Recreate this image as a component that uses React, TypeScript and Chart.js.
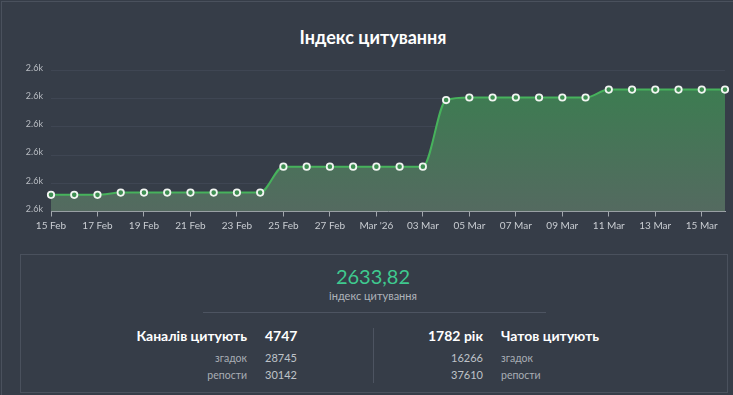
import React, { useEffect, useRef } from "react";
import { Chart, registerables } from "chart.js";

Chart.register(...registerables);

const categories = [
  "15 Feb", "16 Feb", "17 Feb", "18 Feb", "19 Feb", "20 Feb", "21 Feb", "22 Feb",
  "23 Feb", "24 Feb", "25 Feb", "26 Feb", "27 Feb", "28 Feb", "Mar '26", "02 Mar",
  "03 Mar", "04 Mar", "05 Mar", "06 Mar", "07 Mar", "08 Mar", "09 Mar", "10 Mar",
  "11 Mar", "12 Mar", "13 Mar", "14 Mar", "15 Mar", "16 Mar",
];

const citationIndex = [
  2630.09, 2630.09, 2630.09,
  2630.17, 2630.17, 2630.17, 2630.17, 2630.17, 2630.17, 2630.17,
  2631.09, 2631.09, 2631.09, 2631.09, 2631.09, 2631.09, 2631.09,
  2633.45,
  2633.54, 2633.54, 2633.54, 2633.54, 2633.54, 2633.54,
  2633.82, 2633.82, 2633.82, 2633.82, 2633.82, 2633.82,
];

const yTickValues = [2629.5, 2630.5, 2631.5, 2632.5, 2633.5, 2634.5];
const yTickLabels = ["2.6k", "2.6k", "2.6k", "2.6k", "2.6k", "2.6k"];

const BG = "#363d48";
const FONT = "Lato, 'Noto Sans', sans-serif";

export default function App() {
  const canvasRef = useRef<HTMLCanvasElement | null>(null);

  useEffect(() => {
    const canvas = canvasRef.current;
    if (!canvas) return;
    const chart = new Chart(canvas, {
      type: "line",
      data: {
        labels: categories,
        datasets: [
          {
            data: citationIndex,
            borderColor: "#47b25c",
            borderWidth: 2,
            cubicInterpolationMode: "monotone",
            fill: "start",
            backgroundColor: (ctx: any) => {
              const a = ctx.chart.chartArea;
              if (!a) return "rgba(60,128,82,0.8)";
              const g = ctx.chart.ctx.createLinearGradient(0, a.top, 0, a.bottom);
              g.addColorStop(0, "#397f4f");
              g.addColorStop(1, "#546a60");
              return g;
            },
            pointRadius: 3.2,
            pointBorderWidth: 1.8,
            pointBorderColor: "#f2f5f2",
            pointBackgroundColor: "#3e8e52",
            pointHoverRadius: 3.2,
          },
        ],
      },
      options: {
        animation: false,
        responsive: false,
        maintainAspectRatio: false,
        layout: { padding: { top: 8, right: 8, left: 0, bottom: 0 } },
        plugins: { legend: { display: false }, tooltip: { enabled: false } },
        scales: {
          x: {
            type: "category",
            offset: false,
            grid: {
              display: true,
              drawOnChartArea: false,
              drawTicks: true,
              tickLength: 5,
              color: "#a3a8ae",
            },
            border: { display: true, color: "#a3a8ae", width: 1 },
            ticks: {
              autoSkip: false,
              maxRotation: 0,
              padding: 3,
              color: "#c9cdd2",
              font: { family: FONT, size: 10 },
            },
            afterBuildTicks: (axis: any) => {
              axis.ticks = axis.ticks.filter((t: any) => t.value % 2 === 0);
            },
            afterFit: (scale: any) => {
              scale.height = 28.5;
            },
          },
          y: {
            min: yTickValues[0],
            max: yTickValues[yTickValues.length - 1],
            grid: { color: "#3f4653", drawTicks: false },
            border: { display: false },
            ticks: {
              padding: 8,
              labelOffset: -2.5,
              color: "#b9bdc3",
              font: { family: FONT, size: 9 },
              callback: (_v: any, i: number) => yTickLabels[i],
            },
            afterBuildTicks: (axis: any) => {
              axis.ticks = yTickValues.map((v) => ({ value: v }));
            },
            afterFit: (scale: any) => {
              scale.width = 51;
            },
          },
        },
      },
    });
    return () => chart.destroy();
  }, []);

  const abs = (s: React.CSSProperties): React.CSSProperties => ({ position: "absolute", ...s });

  return (
    <div
      style={{
        position: "fixed",
        left: 0,
        top: 0,
        width: 733,
        height: 395,
        background: BG,
        overflow: "hidden",
        fontFamily: FONT,
      }}
    >
      <div style={abs({ left: 1, top: 1, width: 760, height: 420, borderLeft: "1px solid #4a515d", borderTop: "1px solid #4a515d" })} />
      <div
        style={abs({
          left: 0,
          width: 746,
          top: 25,
          textAlign: "center",
          color: "#ffffff",
          fontWeight: 700,
          fontSize: 18,
          lineHeight: "24px",
        })}
      >
        Індекс цитування
      </div>
      <canvas ref={canvasRef} width={733} height={183} style={abs({ left: 0, top: 57, width: 733, height: 183 })} />

      <div
        style={abs({
          left: 20,
          top: 254,
          width: 708,
          height: 139,
          border: "1px solid #4a515d",
          boxSizing: "border-box",
        })}
      />
      <div
        style={abs({
          left: 273,
          width: 200,
          top: 263,
          textAlign: "center",
          color: "#3fc98f",
          fontSize: 20,
          lineHeight: "26px",
        })}
      >
        2633,82
      </div>
      <div
        style={abs({
          left: 273,
          width: 200,
          top: 289,
          textAlign: "center",
          color: "#aeb3ba",
          fontSize: 11,
          lineHeight: "14px",
        })}
      >
        індекс цитування
      </div>
      <div style={abs({ left: 203, top: 312, width: 343, height: 1, background: "#4d5461" })} />
      <div style={abs({ left: 373, top: 328, width: 1, height: 55, background: "#4d5461" })} />

      {/* left column */}
      <div style={abs({ left: 100, width: 147, top: 327, textAlign: "right", color: "#ffffff", fontWeight: 700, fontSize: 14, lineHeight: "18px" })}>
        Каналів цитують
      </div>
      <div style={abs({ left: 265, top: 327, color: "#ffffff", fontWeight: 700, fontSize: 14, lineHeight: "18px" })}>4747</div>
      <div style={abs({ left: 150, width: 97, top: 351, textAlign: "right", color: "#a9aeb5", fontSize: 10.5, lineHeight: "14px" })}>згадок</div>
      <div style={abs({ left: 265, top: 351, color: "#bfc3c9", fontSize: 11, lineHeight: "14px" })}>28745</div>
      <div style={abs({ left: 150, width: 97, top: 368, textAlign: "right", color: "#a9aeb5", fontSize: 10.5, lineHeight: "14px" })}>репости</div>
      <div style={abs({ left: 265, top: 368, color: "#bfc3c9", fontSize: 11, lineHeight: "14px" })}>30142</div>

      {/* right column */}
      <div style={abs({ left: 383, width: 100, top: 327, textAlign: "right", color: "#ffffff", fontWeight: 700, fontSize: 14, lineHeight: "18px" })}>
        1782 рік
      </div>
      <div style={abs({ left: 501, top: 327, color: "#ffffff", fontWeight: 700, fontSize: 14, lineHeight: "18px" })}>Чатов цитують</div>
      <div style={abs({ left: 383, width: 100, top: 351, textAlign: "right", color: "#bfc3c9", fontSize: 11, lineHeight: "14px" })}>16266</div>
      <div style={abs({ left: 501, top: 351, color: "#a9aeb5", fontSize: 10.5, lineHeight: "14px" })}>згадок</div>
      <div style={abs({ left: 383, width: 100, top: 368, textAlign: "right", color: "#bfc3c9", fontSize: 11, lineHeight: "14px" })}>37610</div>
      <div style={abs({ left: 501, top: 368, color: "#a9aeb5", fontSize: 10.5, lineHeight: "14px" })}>репости</div>
    </div>
  );
}
